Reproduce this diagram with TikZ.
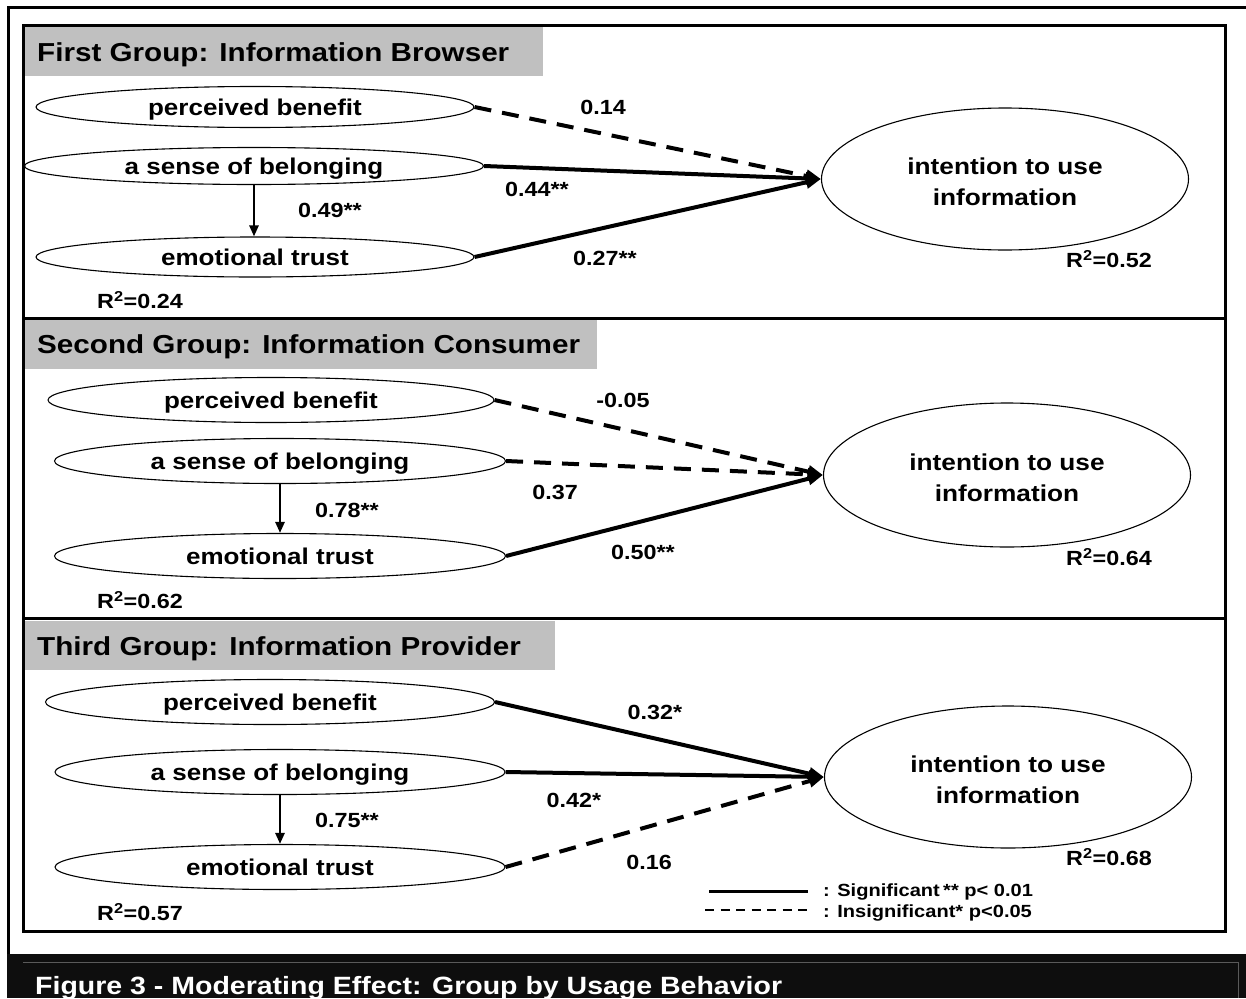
\documentclass[tikz,border=0pt]{standalone}
\usepackage{fontspec}
\setmainfont{Liberation Sans}
\usepackage{graphicx}
\usetikzlibrary{shapes.geometric,arrows.meta}
\newcommand\stx[1]{\scalebox{1.14}[1]{#1}}
\newcommand\itxt{\rule{0pt}{23pt}\stx{intention to use}\\\stx{information}}
\definecolor{bargray}{HTML}{C0C0C0}
\definecolor{capbg}{HTML}{0E0E0E}
\definecolor{capline}{HTML}{5A5A5A}
\begin{document}
\begin{tikzpicture}[x=1pt,y=-1pt,
  lat/.style={ellipse,draw,line width=1.1pt,fill=white,inner sep=0pt,
    text height=17pt,text depth=0pt,
    font=\fontsize{22.8}{26}\selectfont\bfseries},
  big/.style={ellipse,draw,line width=1.1pt,fill=white,inner sep=0pt,
    minimum width=367pt,minimum height=142pt,align=center,
    font=\fontsize{23}{31}\selectfont\bfseries},
  coef/.style={inner sep=0pt,font=\fontsize{20.5}{24}\selectfont\bfseries},
  ttl/.style={anchor=base west,inner sep=0pt,font=\fontsize{26}{30}\selectfont\bfseries},
  legtxt/.style={anchor=west,inner sep=0pt,font=\fontsize{17.6}{20}\selectfont\bfseries},
  sig/.style={line width=4pt,-{Triangle[length=15pt,width=12pt]}},
  ins/.style={sig,dash pattern=on 17pt off 11pt},
  down/.style={line width=2.5pt,-{Triangle[length=11pt,width=9pt]}},
  panel/.style={line width=3pt},
]
\useasboundingbox (0,0) rectangle (1246,998);

% outer frame
\draw[line width=3pt] (1246,8) -- (8,8) -- (8,955);

% title bars
\fill[bargray] (23,26) rectangle (543,76);
\fill[bargray] (23,320) rectangle (597,369);
\fill[bargray] (23,621) rectangle (555,670);

% panels
\draw[panel] (23,26) rectangle (1225,931);
\draw[panel] (23,318) -- (1225,318);
\draw[panel] (23,618) -- (1225,618);

% titles
\node[ttl] (t1) at (37,62) {\stx{First Group: Information Browser}};
\node[ttl] (t2) at (37,353) {\stx{Second Group: Information Consumer}};
\node[ttl] (t3) at (37,655) {\stx{Third Group: Information Provider}};

% ---------- panel 1 ----------
\node[lat,minimum width=438pt,minimum height=41pt] (pb1) at (255,107) {\stx{perceived benefit}};
\node[lat,minimum width=459pt,minimum height=37pt] (sb1) at (254,166) {\stx{a sense of belonging}};
\node[lat,minimum width=438pt,minimum height=40pt] (et1) at (255,257) {\stx{emotional trust}};
\node[big] (it1) at (1005,179) {\itxt};
\draw[down] (sb1.south) -- (sb1.south |- et1.north);
\draw[ins] (pb1.east) -- (it1.west);
\draw[sig] (sb1.east) -- (it1.west);
\draw[sig] (et1.east) -- (it1.west);
\node[coef] (c11) at (603,107) {\stx{0.14}};
\node[coef] (c12) at (537,189) {\stx{0.44**}};
\node[coef] (c13) at (330,210) {\stx{0.49**}};
\node[coef] (c14) at (605,258) {\stx{0.27**}};
\node[coef] (r11) at (140,300) {\stx{R\textsuperscript{2}=0.24}};
\node[coef] (r12) at (1109,259) {\stx{R\textsuperscript{2}=0.52}};

% ---------- panel 2 ----------
\node[lat,minimum width=446pt,minimum height=45pt] (pb2) at (271,400) {\stx{perceived benefit}};
\node[lat,minimum width=451pt,minimum height=45pt] (sb2) at (280,461) {\stx{a sense of belonging}};
\node[lat,minimum width=451pt,minimum height=45pt] (et2) at (280,556) {\stx{emotional trust}};
\node[big,minimum height=144pt] (it2) at (1007,475) {\itxt};
\draw[down] (sb2.south) -- (sb2.south |- et2.north);
\draw[ins] (pb2.east) -- (it2.west);
\draw[ins] (sb2.east) -- (it2.west);
\draw[sig] (et2.east) -- (it2.west);
\node[coef] (c21) at (623,400) {\stx{-0.05}};
\node[coef] (c22) at (555,492) {\stx{0.37}};
\node[coef] (c23) at (347,510) {\stx{0.78**}};
\node[coef] (c24) at (643,552) {\stx{0.50**}};
\node[coef] (r21) at (140,600) {\stx{R\textsuperscript{2}=0.62}};
\node[coef] (r22) at (1109,557) {\stx{R\textsuperscript{2}=0.64}};

% ---------- panel 3 ----------
\node[lat,minimum width=449pt,minimum height=45pt] (pb3) at (270,702) {\stx{perceived benefit}};
\node[lat,minimum width=450pt,minimum height=45pt] (sb3) at (280,772) {\stx{a sense of belonging}};
\node[lat,minimum width=450pt,minimum height=45pt] (et3) at (280,867) {\stx{emotional trust}};
\node[big] (it3) at (1008,777) {\itxt};
\draw[down] (sb3.south) -- (sb3.south |- et3.north);
\draw[sig] (pb3.east) -- (it3.west);
\draw[sig] (sb3.east) -- (it3.west);
\draw[ins] (et3.east) -- (it3.west);
\node[coef] (c31) at (655,712) {\stx{0.32*}};
\node[coef] (c32) at (574,800) {\stx{0.42*}};
\node[coef] (c33) at (347,820) {\stx{0.75**}};
\node[coef] (c34) at (649,862) {\stx{0.16}};
\node[coef] (r31) at (140,912) {\stx{R\textsuperscript{2}=0.57}};
\node[coef] (r32) at (1109,857) {\stx{R\textsuperscript{2}=0.68}};

% legend
\coordinate (la1) at (709,891);
\coordinate (lb1) at (808,891);
\coordinate (la2) at (705,910);
\coordinate (lb2) at (813,910);
\draw[line width=3pt] (la1) -- (lb1);
\draw[line width=2pt,dash pattern=on 9pt off 6.5pt] (la2) -- (lb2);
\node[legtxt] (lg1) at (823,892) {\stx{: Significant\,** p< 0.01}};
\node[legtxt] (lg2) at (823,913) {\stx{: Insignificant* p<0.05}};

% caption bar
\fill[capbg] (6.5,954) rectangle (1246,998);
\draw[capline,line width=1pt] (23,962) -- (1238,962) -- (1238,998);
\node[anchor=base west,inner sep=0pt,text=white,font=\fontsize{25}{30}\selectfont\bfseries] (cap) at (35,994)
  {\stx{Figure 3 - Moderating Effect: Group by Usage Behavior}};
\end{tikzpicture}
\end{document}
